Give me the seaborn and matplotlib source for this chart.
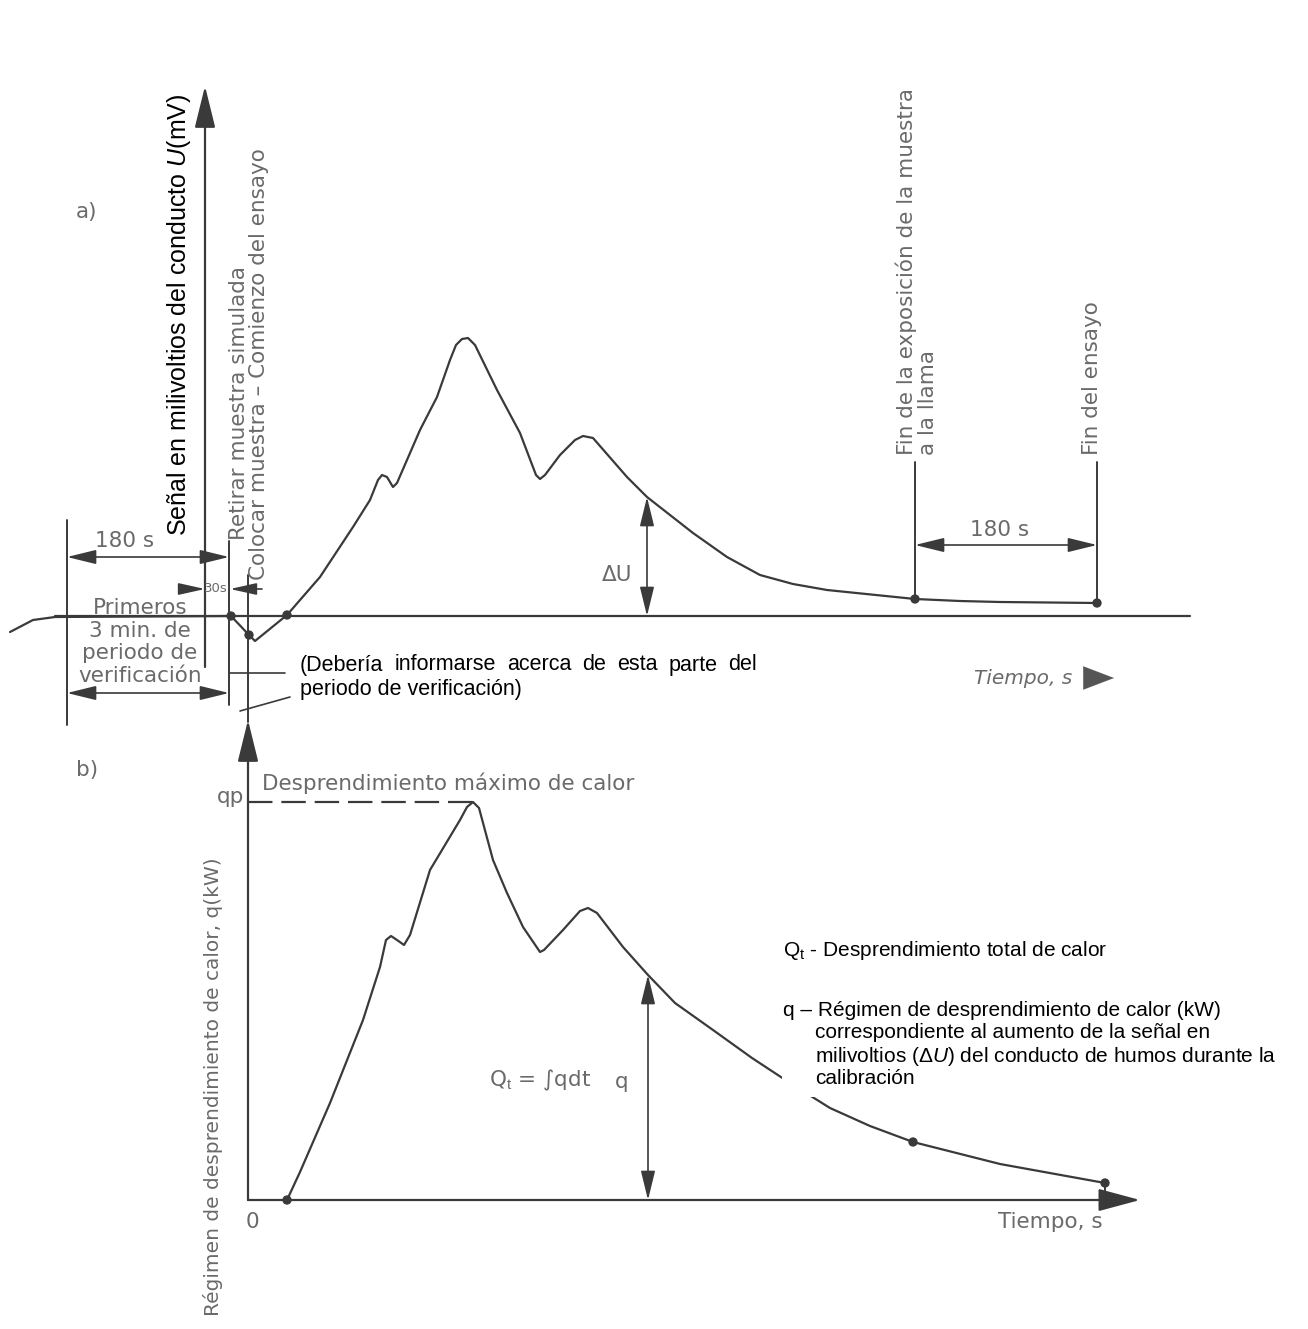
import numpy as np
import matplotlib
matplotlib.use("Agg")
import matplotlib.pyplot as plt
import seaborn as sns
from matplotlib.patches import Rectangle

# ---- data (time in s from start of test, signals in arbitrary units) ----
# a) flue signal U(mV)
t_a = [-238, -215, -193, -17, 1, 7, 39, 72, 105, 122, 130, 134, 139, 145, 149,
       172, 189, 202, 208, 214, 220, 227, 249, 272, 288, 292, 297, 312, 327,
       335, 345, 379, 399, 445, 479, 512, 545, 579, 667, 712, 752, 849]
u_a = [-16, -4, -1, 0, -19, -25, 1, 39, 89, 116, 136, 141, 139, 129, 133,
       186, 219, 256, 271, 277, 278, 271, 226, 183, 141, 137, 141, 161, 176,
       180, 178, 139, 119, 83, 59, 41, 32, 26, 17, 15, 14, 13]
marks_a_t = [-17, 1, 39, 667, 849]
marks_a_u = [0, -19, 1, 17, 13]

# b) heat release rate q(kW)
t_b = [39, 52, 82, 115, 132, 138, 143, 149, 156, 162, 182, 212, 219, 225, 231,
       245, 259, 275, 292, 296, 315, 332, 340, 349, 375, 400, 427, 465, 504,
       542, 582, 622, 665, 752, 857]
q_b = [0, 28, 97, 180, 233, 260, 264, 260, 255, 265, 330, 380, 393, 398, 392,
       340, 307, 273, 248, 250, 270, 289, 292, 287, 253, 225, 197, 170, 142,
       117, 92, 74, 58, 36, 17]
marks_b_t = [39, 665, 857]
marks_b_q = [0, 58, 17]

# ---- layout (figure pixels) ----
W, H = 1308, 1329
X0 = 248          # pixel column of t = 0
BASE_A = 616      # pixel row of U = 0
BASE_B = 1200     # pixel row of q = 0

LINE = "#3a3a3a"
GRAY = "#6a6a6a"
GRAY_FONT = ["DejaVu Sans"]

sns.set_style("white")
plt.rcParams["font.family"] = ["Liberation Sans", "DejaVu Sans"]
plt.rcParams["mathtext.fontset"] = "custom"
plt.rcParams["mathtext.rm"] = "Liberation Sans"
plt.rcParams["mathtext.it"] = "Liberation Sans:italic"

fig = plt.figure(figsize=(W / 100, H / 100), dpi=100)
ax_a = fig.add_axes([0, 0, 1, 1])
ax_a.set_xlim(-X0, W - X0)
ax_a.set_ylim(BASE_A - H, BASE_A)
ax_b = fig.add_axes([0, 0, 1, 1])
ax_b.set_xlim(-X0, W - X0)
ax_b.set_ylim(BASE_B - H, BASE_B)
ov = fig.add_axes([0, 0, 1, 1])
ov.set_xlim(0, W)
ov.set_ylim(H, 0)
for a in (ax_a, ax_b, ov):
    a.axis("off")
    a.patch.set_alpha(0)

# curves
sns.lineplot(x=t_a, y=u_a, ax=ax_a, color=LINE, lw=1.6, sort=False, estimator=None)
sns.scatterplot(x=marks_a_t, y=marks_a_u, ax=ax_a, color=LINE, s=45, edgecolor="none", zorder=3)
sns.lineplot(x=t_b, y=q_b, ax=ax_b, color=LINE, lw=1.6, sort=False, estimator=None)
sns.scatterplot(x=marks_b_t, y=marks_b_q, ax=ax_b, color=LINE, s=45, edgecolor="none", zorder=3)

# baselines
ax_a.plot([-193, 942], [0, 0], color=LINE, lw=1.6)
ax_b.annotate("", xy=(892, 0), xytext=(0, 0),
              arrowprops=dict(arrowstyle="-|>,head_length=1.3,head_width=0.35",
                              mutation_scale=20, color=LINE, lw=1.6, shrinkA=0, shrinkB=0))
ax_b.plot([marks_b_t[-1], marks_b_t[-1]], [0, marks_b_q[-1]], color=LINE, lw=1.4)

# peak qp dashed line, DeltaU and q arrows
i_pk = int(np.argmax(q_b))
ax_b.plot([0, t_b[i_pk]], [q_b[i_pk], q_b[i_pk]], color=LINE, lw=1.6, ls=(0, (11, 4)))
dim = dict(arrowstyle="<|-|>,head_length=0.9,head_width=0.22", mutation_scale=20,
           color=LINE, lw=1.2, shrinkA=0, shrinkB=0)
t_du = 399
ax_a.annotate("", xy=(t_du, np.interp(t_du, t_a, u_a)), xytext=(t_du, 0), arrowprops=dim)
ax_b.annotate("", xy=(t_du + 1, np.interp(t_du + 1, t_b, q_b)), xytext=(t_du + 1, 0), arrowprops=dim)

# ---- overlay: construction lines, arrows, texts (pixels) ----
axis_arrow = dict(arrowstyle="-|>,head_length=1.3,head_width=0.32", mutation_scale=20,
                  color=LINE, lw=1.6, shrinkA=0, shrinkB=0)
ov.annotate("", xy=(205, 86), xytext=(205, 667), arrowprops=axis_arrow)
ov.annotate("", xy=(248, 720), xytext=(248, 1200), arrowprops=axis_arrow)
ov.plot([248, 248], [575, 722], color=LINE, lw=1.4)
ov.plot([229, 229], [541, 705], color=LINE, lw=1.4)
ov.plot([67, 67], [520, 725], color=LINE, lw=1.4)
ov.plot([915, 915], [462, 599], color=LINE, lw=1.4)
ov.plot([1097, 1097], [462, 603], color=LINE, lw=1.4)
ov.plot([229, 285], [673, 673], color=LINE, lw=1.2)
ov.plot([240, 290], [711, 697], color=LINE, lw=1.2)

ov.annotate("", xy=(229, 557), xytext=(67, 557), arrowprops=dim)
ov.annotate("", xy=(229, 693), xytext=(67, 693), arrowprops=dim)
ov.annotate("", xy=(1097, 545), xytext=(915, 545), arrowprops=dim)
small = dict(arrowstyle="-|>,head_length=0.9,head_width=0.2", mutation_scale=18,
             color=LINE, lw=1.2, shrinkA=0, shrinkB=0)
ov.annotate("", xy=(205, 589), xytext=(180, 589), arrowprops=small)
ov.annotate("", xy=(230, 589), xytext=(262, 589), arrowprops=small)
ov.annotate("", xy=(1114, 678), xytext=(1092, 678),
            arrowprops=dict(arrowstyle="-|>,head_length=1.1,head_width=0.42", mutation_scale=20,
                            color="#555555", lw=0.1, shrinkA=0, shrinkB=0))

gt = dict(color=GRAY, fontsize=15.5, family=GRAY_FONT)
ov.text(76, 212, "a)", ha="left", va="center", **gt)
ov.text(76, 770, "b)", ha="left", va="center", **gt)
ov.text(125, 541, "180 s", ha="center", va="center", **gt)
ov.text(1000, 530, "180 s", ha="center", va="center", **gt)
ov.text(216, 589, "30s", ha="center", va="center", color=GRAY, fontsize=9.5, family=GRAY_FONT)
ov.text(140, 642, "Primeros\n3 min. de\nperiodo de\nverificación", ha="center", va="center",
        linespacing=1.18, **gt)
ov.text(239, 540, "Retirar muestra simulada", rotation=90, ha="center", va="bottom", **gt)
ov.text(259, 580, "Colocar muestra – Comienzo del ensayo", rotation=90, ha="center", va="bottom", **gt)
ov.text(917, 455, "Fin de la exposición de la muestra\na la llama", rotation=90, ha="center",
        va="bottom", multialignment="left", linespacing=1.05, **gt)
ov.text(1092, 455, "Fin del ensayo", rotation=90, ha="center", va="bottom", **gt)
ov.text(617, 575, "ΔU", ha="center", va="center", **gt)
ov.text(1072, 678, "Tiempo, s", ha="right", va="center", style="italic",
        color=GRAY, fontsize=14.5, family=GRAY_FONT)
ov.text(231, 797, "qp", ha="center", va="center", **gt)
ov.text(262, 783, "Desprendimiento máximo de calor", ha="left", va="center", **gt)
ov.text(213, 1087, "Régimen de desprendimiento de calor, q(kW)", rotation=90,
        ha="center", va="center", color=GRAY, fontsize=14.5, family=GRAY_FONT)
ov.text(252, 1222, "0", ha="center", va="center", **gt)
ov.text(1050, 1222, "Tiempo, s", ha="center", va="center", **gt)
ov.text(540, 1080, r"Q$_{\mathrm{t}}$ = ∫qdt", ha="center", va="center", **gt)
ov.text(622, 1082, "q", ha="center", va="center", **gt)

ov.text(179, 315, r"Señal en milivoltios del conducto $\it{U}$(mV)", rotation=90,
        ha="center", va="center", color="black", fontsize=18,
        bbox=dict(facecolor="white", edgecolor="none", pad=1))

# justified first line of the note
bt = dict(color="black", fontsize=15.5, va="center", ha="left")
renderer = fig.canvas.get_renderer()
words = "(Debería informarse acerca de esta parte del".split()
word_txt = [ov.text(300, 665, w, **bt) for w in words]
widths = [t.get_window_extent(renderer).width for t in word_txt]
gap = (757 - 300 - sum(widths)) / (len(words) - 1)
x = 300
for t, w in zip(word_txt, widths):
    t.set_x(x)
    x += w + gap
ov.text(300, 690, "periodo de verificación)", **bt)

ov.add_patch(Rectangle((782, 888), 518, 209, facecolor="white", edgecolor="none", zorder=5))
lt = dict(color="black", fontsize=15, ha="left", va="center", zorder=6)
ov.text(783, 950, r"Q$_{\mathrm{t}}$ - Desprendimiento total de calor", **lt)
ov.text(783, 1010, "q – Régimen de desprendimiento de calor (kW)", **lt)
ov.text(815, 1033, "correspondiente al aumento de la señal en", **lt)
ov.text(815, 1056, r"milivoltios (Δ$\it{U}$) del conducto de humos durante la", **lt)
ov.text(815, 1079, "calibración", **lt)

fig.savefig("out.png", dpi=100, facecolor="white")
